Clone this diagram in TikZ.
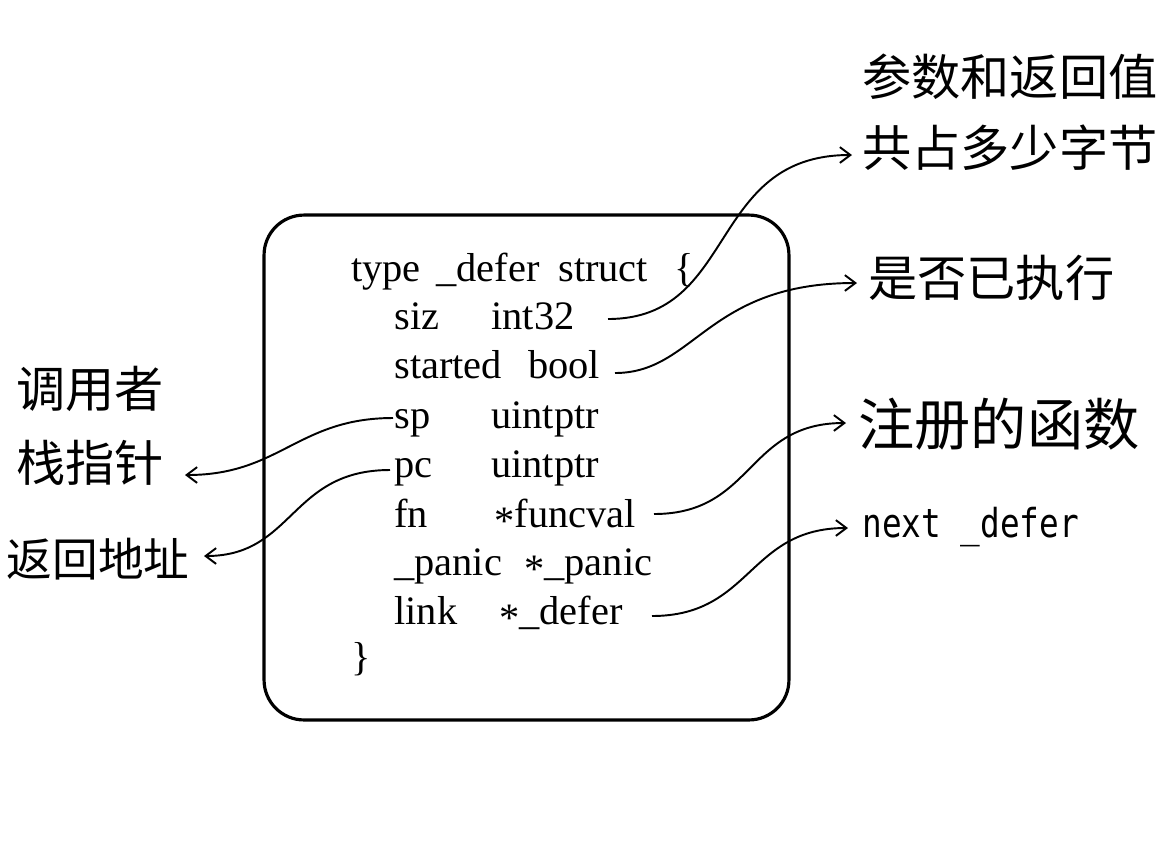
\documentclass[tikz,border=0pt]{standalone}
\usepackage{fontspec}
\usepackage{tikz}
\usetikzlibrary{arrows.meta}
\newfontfamily\cjk{Noto Sans CJK SC}
\newfontfamily\codefont{Liberation Serif}
\newfontfamily\namefont[FakeStretch=0.82]{DejaVu Sans Mono}
\newcommand{\ptr}{\raisebox{-0.4ex}{*}}

\begin{document}
\begin{tikzpicture}[x=0.02cm,y=-0.02cm,>={Straight Barb[length=6pt,width=9pt]},
    code/.style={anchor=base west,inner sep=0pt,font=\codefont\fontsize{23}{27}\selectfont},
    note/.style={inner sep=0pt,font=\cjk\fontsize{28}{34}\selectfont},
    wire/.style={->,line width=1.1pt}]
  \useasboundingbox (0,0) rectangle (1167,850);
  \clip (0,0) rectangle (1167,850);
  % struct box
  \node[draw,line width=1.8pt,rounded corners=0.8cm,minimum width=10.5cm,minimum height=10.1cm] (box) at (526.5,467.5) {};
  \node[code] (htype) at (351,281) {type};
  \node[code] (hdefer) at (436,281) {\_defer};
  \node[code] (hstruct) at (558,281) {struct};
  \node[code] (hbrace) at (674,281) {\{};
  \node[code] (fsiz) at (394,329) {siz};
  \node[code] (tsiz) at (491,329) {int32};
  \node[code] (fstarted) at (394,378) {started};
  \node[code] (tstarted) at (528,378) {bool};
  \node[code] (fsp) at (394,428) {sp};
  \node[code] (tsp) at (491,428) {uintptr};
  \node[code] (fpc) at (394,477) {pc};
  \node[code] (tpc) at (491,477) {uintptr};
  \node[code] (ffn) at (394,527) {fn};
  \node[code] (tfn) at (494,527) {\ptr funcval};
  \node[code] (fpanic) at (394,575) {\_panic};
  \node[code] (tpanic) at (524,575) {\ptr\_panic};
  \node[code] (flink) at (394,624) {link};
  \node[code] (tlink) at (499,624) {\ptr\_defer};
  \node[code] (tail) at (351,670) {\}};
  % notes
  \node[note,anchor=west] (cnparam) at (862,77) {参数和返回值};
  \node[note,anchor=west] (cnsize) at (862,148) {共占多少字节};
  \node[note,anchor=west] (cndone) at (868,278) {是否已执行};
  \node[note,anchor=west,font=\cjk\fontsize{32}{38}\selectfont] (cnfn) at (858,424) {注册的函数};
  \node[anchor=base west,inner sep=0pt,font=\namefont\fontsize{22.7}{27}\selectfont] (cnnext) at (862,537) {next \_defer};
  \node[note,anchor=east] (cncaller) at (164,389) {调用者};
  \node[note,anchor=east] (cnsp) at (164,463) {栈指针};
  \node[note,anchor=east,font=\cjk\fontsize{26}{32}\selectfont] (cnpc) at (190,559) {返回地址};
  % pointers
  \draw[wire] ([shift={(117,-10)}]tsiz.base west) .. controls +(130,0) and +(-145,0) .. ([shift={(-10,7)}]cnsize.west);
  \draw[wire] ([shift={(87,-5)}]tstarted.base west) .. controls +(80,0) and +(-150,0) .. ([shift={(-11,5)}]cndone.west);
  \draw[wire] ([shift={(-1,-10)}]fsp.base west) .. controls +(-95,0) and +(95,0) .. ([shift={(21,12)}]cnsp.east);
  \draw[wire] ([shift={(-4,-7)}]fpc.base west) .. controls +(-100,0) and +(90,0) .. ([shift={(14,-3)}]cnpc.east);
  \draw[wire] ([shift={(160,-13)}]tfn.base west) .. controls +(100,0) and +(-100,0) .. ([shift={(-12,-1)}]cnfn.west);
  \draw[wire] ([shift={(153,-8)}]tlink.base west) .. controls +(100,0) and +(-100,0) .. ([shift={(-14,-9)}]cnnext.base west);
\end{tikzpicture}
\end{document}
